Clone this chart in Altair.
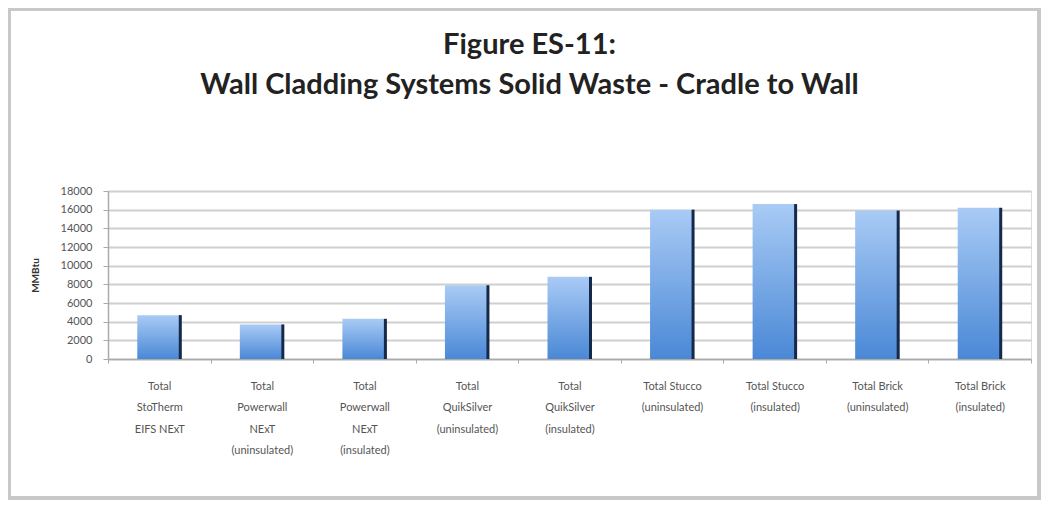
import altair as alt
import pandas as pd

categories = [
    "Total|StoTherm|EIFS NExT",
    "Total|Powerwall|NExT|(uninsulated)",
    "Total|Powerwall|NExT|(insulated)",
    "Total|QuikSilver|(uninsulated)",
    "Total|QuikSilver|(insulated)",
    "Total Stucco|(uninsulated)",
    "Total Stucco|(insulated)",
    "Total Brick|(uninsulated)",
    "Total Brick|(insulated)",
]
values = [4700, 3700, 4300, 7900, 8800, 16000, 16600, 15900, 16200]
y_ticks = list(range(0, 18001, 2000))

df = pd.DataFrame({"cat": categories, "val": values})

FONT = "Lato"

x_enc = alt.X("cat:N", sort=categories, title=None,
              scale=alt.Scale(paddingInner=0, paddingOuter=0),
              axis=alt.Axis(labelExpr="split(datum.label, '|')", labelAngle=0,
                            labelFontSize=11, labelColor="#555555", labelFont=FONT,
                            labelLineHeight=21.5, labelPadding=17, labelBaseline="top",
                            tickBand="extent", tickSize=4, tickColor="#aaaaaa",
                            domainColor="#aaaaaa", domainWidth=1.5, grid=False))
y_enc = alt.Y("val:Q", title="MMBtu",
              scale=alt.Scale(domain=[0, 18000]),
              axis=alt.Axis(values=y_ticks, format="d", labelOverlap=False,
                            labelFontSize=11, labelColor="#555555", labelPadding=11,
                            labelFont=FONT, tickSize=5, tickColor="#aaaaaa",
                            domainColor="#aaaaaa", domainWidth=1.5,
                            gridColor="#cfcfcf", gridWidth=2,
                            titleFont=FONT, titleFontSize=10, titleFontWeight="bold",
                            titleColor="#333333", titlePadding=20))

bars = alt.Chart(df).mark_bar(
    width=44,
    color=alt.Gradient(gradient="linear", x1=0, y1=0, x2=0, y2=1,
                       stops=[alt.GradientStop(offset=0, color="#a9cbf5"),
                              alt.GradientStop(offset=1, color="#4a88d6")])
).encode(x=x_enc, y=y_enc)

edge = alt.Chart(df).mark_bar(width=3, xOffset=21, color="#15294a").encode(
    x=x_enc, y=y_enc,
)

frame = alt.Chart(df).mark_rect(fill=None, stroke="#c8c8c8", strokeWidth=3, clip=False).encode(
    x=alt.value(-99), x2=alt.value(931), y=alt.value(-182), y2=alt.value(307)
)

chart = alt.layer(frame, bars, edge).properties(
    width=923, height=168,
    autosize=alt.AutoSizeParams(type="none"),
    padding={"left": 100, "top": 183, "right": 10, "bottom": 141},
    title=alt.TitleParams(["Figure ES-11:", "Wall Cladding Systems Solid Waste - Cradle to Wall"],
                          font=FONT, fontSize=29, fontWeight="bold", color="#222222",
                          lineHeight=40, anchor="middle", dx=-40, offset=-92),
).configure_view(stroke=None).configure(background="white")

chart.save("out.html", embed_options={"renderer": "svg", "actions": False})
